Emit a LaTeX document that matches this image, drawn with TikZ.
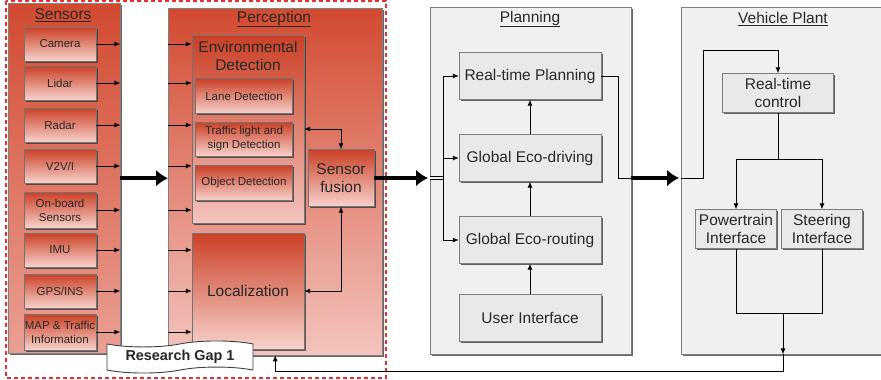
\documentclass[tikz,border=0pt]{standalone}
\usepackage{fontspec}
\setmainfont{Liberation Sans}
\usetikzlibrary{arrows.meta, shadows, shapes.symbols, calc}

\definecolor{boxred}{RGB}{203,64,38}
\definecolor{boxpink}{RGB}{247,210,204}
\definecolor{outred}{RGB}{210,74,48}
\definecolor{outpink}{RGB}{234,160,148}
\definecolor{percpink}{RGB}{243,196,190}
\definecolor{panelgray}{RGB}{240,240,240}
\definecolor{edgegray}{RGB}{125,125,125}
\definecolor{txtgray}{RGB}{40,40,40}
\definecolor{gapred}{RGB}{235,45,45}

\tikzset{
  bigtxt/.style={font=\fontsize{15.5}{18}\selectfont},
  smalltxt/.style={font=\fontsize{11.5}{14}\selectfont},
  shadebox/.style={drop shadow={shadow xshift=1.8pt, shadow yshift=-1.8pt, fill=black!80, opacity=0.75}},
  outerred/.style={draw=black!50, top color=outred, bottom color=outpink, shadebox},
  redbox/.style={draw=black!55, top color=boxred, bottom color=boxpink, align=center, inner sep=0pt, shadebox},
  panel/.style={draw=edgegray, fill=panelgray, shadebox},
  graybox/.style={draw=edgegray, fill=panelgray!97!black, align=center, inner sep=0pt, bigtxt, shadebox},
  wire/.style={line width=0.9pt},
  thinarrow/.style={wire, -{Latex[length=6pt,width=5pt]}},
  biarrow/.style={wire, {Latex[length=6pt,width=5pt]}-{Latex[length=6pt,width=5pt]}},
  bigarrow/.style={line width=3.6pt, -{Latex[length=12pt,width=17pt]}}
}

\begin{document}
\begin{tikzpicture}[x=1pt, y=-1pt, text=txtgray]
\useasboundingbox (0,0) rectangle (881,380);

% research gap frame
\draw[gapred, dashed, dash pattern=on 4pt off 3pt, line width=1.2pt] (6,1) rectangle (386,378);

% main blocks
\node[outerred, minimum width=112pt, minimum height=350pt, anchor=north west] (sensors) at (8,3) {};
\node[outerred, bottom color=percpink, minimum width=214pt, minimum height=347pt, anchor=north west] (perc) at (168,8) {};
\node[panel, minimum width=201pt, minimum height=347pt, anchor=north west] (plan) at (430,7) {};
\node[panel, minimum width=230pt, minimum height=347pt, anchor=north west] (veh) at (681,7) {};

\node[bigtxt] (sensT) at (63,15) {\underline{Sensors}};
\node[bigtxt] (percT) at (274,19) {\underline{Perception}};
\node[bigtxt] (planT) at (530,19) {\underline{Planning}};
\node[bigtxt] (vehT) at (783,19) {\underline{Vehicle Plant}};

% sensors
\foreach \n/\y/\h/\t in {cam/44/34/Camera, lid/83/34/Lidar, rad/125/34/Radar, v2v/166/34/{V2V/I},
    onb/210/36/{On-board\\Sensors}, imu/250/34/IMU, gps/291/34/{GPS/INS}, map/332/36/{MAP \& Traffic\\Information}}
  \node[redbox, smalltxt, minimum width=72pt, minimum height=\h pt] (\n) at (60,\y) {\t};

% perception
\node[redbox, bottom color=percpink, minimum width=112pt, minimum height=188pt] (env) at (248,129) {};
\node[bigtxt, align=center] (envT) at (248,56) {Environmental\\Detection};
\node[redbox, smalltxt, minimum width=97pt, minimum height=35pt] (lane) at (244,96) {Lane Detection};
\node[redbox, smalltxt, minimum width=97pt, minimum height=34pt] (tls) at (244,139) {Traffic light and\\sign Detection};
\node[redbox, smalltxt, minimum width=97pt, minimum height=35pt] (obj) at (244,183) {Object Detection};
\node[redbox, bigtxt, minimum width=112pt, minimum height=116pt] (loc) at (248,291) {Localization};
\node[redbox, bigtxt, minimum width=66pt, minimum height=57pt] (fusion) at (341,178) {Sensor\\fusion};

% planning
\foreach \n/\y/\t in {rtp/76/Real-time Planning, ged/158/Global Eco-driving, ger/240/Global Eco-routing, ui/318/User Interface}
  \node[graybox, minimum width=142pt, minimum height=47pt] (\n) at (530,\y) {\t};

% vehicle plant
\node[graybox, minimum width=111pt, minimum height=39pt] (rtc) at (778,93) {Real-time\\control};
\node[graybox, minimum width=81pt, minimum height=39pt] (pwr) at (736,229) {Powertrain\\Interface};
\node[graybox, minimum width=81pt, minimum height=39pt] (str) at (822,229) {Steering\\Interface};

% sensor outputs and perception inputs
\foreach \n in {cam,lid,rad,v2v,onb,imu,gps,map}
  \draw[thinarrow] (\n.east) -- (\n.east -| sensors.east);
\foreach \n/\t in {cam/env,lid/env,rad/env,v2v/env,onb/env,imu/loc,gps/loc,map/loc}
  \draw[thinarrow] (\n -| perc.west) -- (\n -| \t.west);

\draw[bigarrow] (sensors.east) -- (sensors.east -| perc.west);
\draw[biarrow] (env.east) -| (fusion.north);
\draw[biarrow] (loc.east) -| (fusion.south);

% into planning
\coordinate (bus) at ($(fusion.east -| plan.west)+(13,0)$);
\draw[bigarrow, shorten >=2pt] (fusion.east) -- (fusion.east -| plan.west);
\draw[wire, double=panelgray, double distance=2pt] (fusion.east -| plan.west) -- (bus);
\draw[thinarrow] (bus) |- (rtp.west);
\draw[thinarrow] (bus) |- (ged.west);
\draw[thinarrow] (bus) |- (ger.west);
\draw[thinarrow] (ui) -- (ger);
\draw[thinarrow] (ger) -- (ged);
\draw[thinarrow] (ged) -- (rtp);

% to vehicle plant
\coordinate (pturn) at ($(rtp.east)+(17,0)$);
\draw[wire] (rtp.east) -- (pturn) |- (plan.east |- fusion.east);
\draw[bigarrow, shorten >=2pt] (plan.east |- fusion.east) -- (veh.west |- fusion.east);
\draw[thinarrow] (veh.west |- fusion.east) -- ++(22,0) |- ($(rtc.north)+(0,-23)$) -- (rtc.north);

\coordinate (split) at ($(rtc.south)+(0,47)$);
\draw[wire] (rtc.south) -- (split);
\draw[thinarrow] (split) -| (pwr.north);
\draw[thinarrow] (split) -| (str.north);

\coordinate (merge) at (783,313);
\draw[wire] (pwr.south) |- (merge);
\draw[wire] (str.south) |- (merge);
\draw[thinarrow] (merge) -- (merge |- veh.south);
\draw[thinarrow] (merge |- veh.south) -- ++(0,17) -| (perc.south);

% research gap label
\node[tape, draw=black!75, fill=white, line width=0.9pt, font=\bfseries\fontsize{14.4}{16}\selectfont, text=black!85,
  minimum width=146pt, minimum height=32pt, tape bend height=6pt] (gap) at (180,357) {Research Gap 1};
\end{tikzpicture}
\end{document}
